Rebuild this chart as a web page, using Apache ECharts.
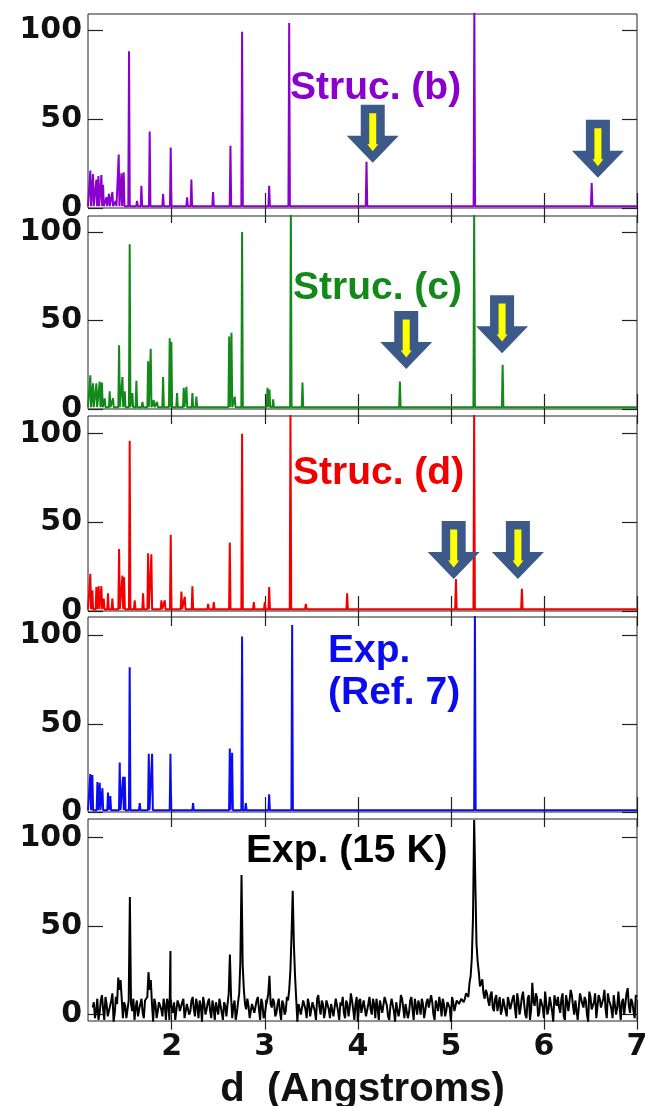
<!DOCTYPE html>
<html>
<head>
<meta charset="utf-8">
<script src="https://cdn.jsdelivr.net/npm/echarts@6/dist/echarts.min.js"></script>
<style>
  html, body { margin: 0; background: #fff; }
  #chart { width: 646px; height: 1106px; }
</style>
</head>
<body>
<div id="chart"></div>
<script>
// tick labels
var dTicks = [2, 3, 4, 5, 6, 7];
var yTicks = [0, 50, 100];
var titles = ["Struc. (b)", "Struc. (c)", "Struc. (d)", "Exp.\n(Ref. 7)", "Exp. (15 K)"];
var colors = ["#8a00cc", "#13891a", "#f20000", "#0b0bf0", "#000000"];

// Struc. (b) peaks: d (Angstroms), intensity
var strucB_d = [1.125, 1.154, 1.190, 1.212, 1.244, 1.262, 1.298, 1.326, 1.362, 1.398, 1.430, 1.459, 1.484, 1.541, 1.627, 1.674, 1.763, 1.907, 1.989, 2.165, 2.211, 2.444, 2.631, 2.756, 3.047, 3.262, 4.093, 5.252, 6.513];
var strucB_I = [21, 19, 16, 18, 18.5, 13, 6, 8, 9, 4, 30, 19.5, 20, 88, 4, 12.5, 43, 8, 34, 6, 16, 9, 35, 99, 12.5, 104, 26, 112, 14];

// Struc. (c)
var strucC_d = [1.125, 1.154, 1.190, 1.226, 1.250, 1.280, 1.333, 1.369, 1.434, 1.470, 1.495, 1.548, 1.577, 1.620, 1.685, 1.746, 1.774, 1.806, 1.842, 1.907, 1.978, 1.996, 2.057, 2.129, 2.158, 2.222, 2.265, 2.617, 2.642, 2.677, 2.756, 3.029, 3.050, 3.090, 3.280, 3.405, 4.452, 5.250, 5.556];
var strucC_I = [19, 14.5, 14.5, 15.5, 15, 6, 10, 6, 36, 18, 10, 93, 9, 16, 4, 27, 34, 5, 4, 18, 40, 38, 9, 12, 12.5, 9, 7, 41, 43, 7, 100, 12, 11, 5.5, 112, 15, 15.5, 112, 25];

// Struc. (d)
var strucD_d = [1.125, 1.147, 1.190, 1.215, 1.244, 1.269, 1.315, 1.362, 1.434, 1.470, 1.488, 1.548, 1.602, 1.692, 1.746, 1.781, 1.889, 1.925, 1.989, 2.104, 2.140, 2.222, 2.391, 2.452, 2.624, 2.756, 2.882, 3.000, 3.047, 3.276, 3.441, 3.885, 5.054, 5.250, 5.763];
var strucD_I = [21, 11.7, 13.5, 14, 14, 7, 10, 7, 35, 20, 19, 96, 6, 10, 32.5, 32, 6, 6, 43, 11, 8, 14, 4, 5, 38.7, 100, 5, 5, 13.5, 112, 4, 10, 18, 112, 12.6];

// Exp. (Ref. 7)
var expRef_d = [1.125, 1.147, 1.201, 1.226, 1.255, 1.315, 1.340, 1.387, 1.441, 1.477, 1.495, 1.548, 1.656, 1.703, 1.753, 1.789, 1.907, 1.986, 2.229, 2.624, 2.649, 2.756, 2.796, 3.047, 3.294, 5.258];
var expRef_I = [21.5, 21, 17, 16.5, 13.5, 11, 9, 2, 28, 20, 20, 82, 5, 2, 33, 33, 2, 33, 5, 36, 33.5, 99.5, 5, 10, 106, 112];

// Exp. (15 K): intensity every 0.025 A from 1.15 A ...
var exp15_start = 1.15;
var exp15_step = 0.025;
var exp15_I = [
  4, -2, 9, 1, 11, -3, 6, 0, 8, -4, 10, 21, 19.5, -2, 5, 3, 66.5, 2, -3, 8,
  3, 9, -2, 7, 24, 19.5, -4, 6, 2, 8, -1, 5, 9, -3, 4, 7, -2, 6, 1, 9,
  -3, 7, 2, 10, -1, 5, 8, -4, 6, 3, 9, -2, 4, 7, 0, 8, -3, 5, 6, 34,
  -2, 8, 1, 12, 79, 14, 3, 5, -1, 7, 2, 10, -3, 6, 0, 8, 22, 4, 7, 1,
  9, -3, 6, 2, 8, 25, 70, 22, -4, 7, 1, 9, -2, 6, 3, 8, -3, 11, 0, 6,
  2, 9, -2, 7, 4, 10, -3, 5, 1, 8, -1, 12, 3, 6, -4, 9, 2, 7, -2, 10,
  0, 6, 9, -3, 7, 2, 11, -1, 5, 8, -4, 6, 3, 9, -2, 7, 1, 10, -3, 5,
  8, 0, 6, -2, 9, 3, 7, -3, 5, 10, -1, 6, 2, 8, -4, 7, 3, 9, 5, 10,
  9, 13, 18, 32, 110, 40, 24, 17, 12, 14, 8, 11, 4, 9, 2, 10, 3, 8, -1, 7,
  2, 11, -2, 8, 4, 13, 0, 9, -3, 18, 5, 10, 1, 8, -2, 12, 3, 9, -4, 7,
  10, 1, 12, -3, 7, 3, 11, 0, 9, -2, 13, 4, 8, -4, 10, 2, 12, -1, 9, 5,
  14, -2, 8, 3, 11, 0, 13, -3, 9, 6, 15, 1, 7, -2, 10
];
// ... and the samples half way between them (from 1.1625 A)
var exp15_mid = [
  7, 2, -3, 8, 3, 10, -1, 5, 12, 1, 6, 14, 9, 7, -2, 8, 6, 9, 4, -1,
  6, 1, 8, 10, 14, 6, 9, -2, 7, 3, 9, -3, 6, 8, 1, -3, 8, 2, 7, -2,
  6, 0, 8, 3, 9, -2, 5, 10, 0, 7, 2, 8, -3, 6, 9, 1, 7, -1, 12, 10,
  5, -3, 7, 30, 28, 6, 9, -2, 6, 1, 8, 3, 9, -2, 5, 12, 6, 9, -1, 6,
  2, 8, 0, 10, 14, 45, 40, 9, 6, 0, 8, 3, 9, -1, 7, 2, 9, 4, 8, -2,
  8, 3, 6, -1, 9, 2, 7, 10, -2, 6, 4, 8, -3, 10, 5, 1, 8, -1, 6, 3,
  9, -2, 4, 8, 1, 10, 5, -3, 9, 2, 7, -1, 11, 4, 6, -2, 8, 3, 9, 0,
  5, 9, -2, 7, 4, 11, 0, 8, 2, 6, 9, -1, 7, 4, 10, 2, 8, 6, 9, 7,
  12, 10, 22, 55, 75, 30, 16, 20, 9, 12, 5, 13, 2, 11, 6, 0, 9, 2, 10, 3,
  9, 4, 12, 0, 10, 6, -2, 11, 3, 7, 12, -1, 9, 4, 13, 0, 10, 2, 11, 5,
  4, 9, -1, 11, 2, 14, 5, 8, -3, 12, 6, 10, 0, 13, 3, 7, -2, 11, 4, 9,
  3, 12, 6, -2, 10, 4, 14, 7, 0, 12, 5, 9, 2, 11
];
var exp15Extra_d = [1.986];
var exp15Extra_I = [36];

// arrow tips [d, intensity]
var arrowsB = [[4.16, 25.4], [6.58, 17]];
var arrowsC = [[4.52, 22.6], [5.55, 31.5]];
var arrowsD = [[5.03, 18], [5.72, 18]];

var baseLevel = 1;

function sticks(ds, is) {
  var pts = [[1.1, baseLevel]];
  for (var i = 0; i < ds.length; i++) {
    pts.push([ds[i] - 0.008, baseLevel], [ds[i], is[i]], [ds[i] + 0.008, baseLevel]);
  }
  pts.push([7, baseLevel]);
  return pts;
}

function expLine() {
  var pts = [];
  exp15_I.forEach(function (v, i) {
    pts.push([+(exp15_start + i * exp15_step).toFixed(4), v]);
  });
  exp15_mid.forEach(function (v, i) {
    pts.push([+(exp15_start + (i + 0.5) * exp15_step).toFixed(4), v]);
  });
  for (var i = 0; i < exp15Extra_d.length; i++) pts.push([exp15Extra_d[i], exp15Extra_I[i]]);
  pts.sort(function (a, b) { return a[0] - b[0]; });
  return pts;
}

var ARROW = "path://M14,0 L38,0 L38,31 L52,31 L26,58 L0,31 L14,31 Z";
var ARROW_IN = "path://M2,0 L9,0 L9,31 L11,31 L5.5,38 L0,31 L2,31 Z";

function arrowMarks(list) {
  var data = [];
  list.forEach(function (c) {
    data.push({ coord: c, symbol: ARROW, symbolSize: [52, 58], symbolOffset: [0, -29], itemStyle: { color: "#3b5a89" } });
    data.push({ coord: c, symbol: ARROW_IN, symbolSize: [11, 38], symbolOffset: [0, -30.6], itemStyle: { color: "#ffff00" } });
  });
  return { silent: true, label: { show: false }, data: data };
}

var panels = [
  { top: 14, height: 194, min: 0, max: 109 },
  { top: 216, height: 193, min: 0, max: 109 },
  { top: 416, height: 195, min: 0, max: 110 },
  { top: 617, height: 195, min: 0, max: 110.5 },
  { top: 819, height: 202, min: -3.6, max: 110.6 }
];
var lines = [sticks(strucB_d, strucB_I), sticks(strucC_d, strucC_I), sticks(strucD_d, strucD_I), sticks(expRef_d, expRef_I), expLine()];
var arrows = [arrowsB, arrowsC, arrowsD, null, null];

var tickStyle = { color: "#222", width: 1.2 };
var labelFont = { fontFamily: "DejaVu Sans", fontWeight: "bold", fontSize: 30, color: "#111" };

var grid = [], xAxis = [], yAxis = [], series = [], title = [];
panels.forEach(function (p, i) {
  grid.push({
    left: 88, right: 9, top: p.top, height: p.height,
    outerBoundsMode: "none", containLabel: false,
    show: true, borderColor: "#222", borderWidth: 1
  });
  ["bottom", "top"].forEach(function (pos) {
    var last = i === 4 && pos === "bottom";
    xAxis.push({
      type: "value", gridIndex: i, position: pos, min: 1.1, max: 7,
      axisLine: { show: false }, splitLine: { show: false },
      axisTick: { inside: true, length: 15, customValues: dTicks, lineStyle: tickStyle },
      axisLabel: Object.assign({ show: last, customValues: dTicks, margin: 11 }, labelFont),
      name: last ? "d  (Angstroms)" : "",
      nameLocation: "middle", nameGap: 49,
      nameTextStyle: { fontFamily: "Liberation Sans", fontWeight: "bold", fontSize: 40, color: "#111" }
    });
  });
  ["left", "right"].forEach(function (pos) {
    yAxis.push({
      type: "value", gridIndex: i, position: pos, min: p.min, max: p.max,
      axisLine: { show: false }, splitLine: { show: false },
      axisTick: { inside: true, length: 15, customValues: yTicks, lineStyle: tickStyle },
      axisLabel: Object.assign({ show: pos === "left", customValues: yTicks, margin: 6 }, labelFont)
    });
  });
  var s = {
    type: "line", xAxisIndex: 2 * i, yAxisIndex: 2 * i, data: lines[i],
    symbol: "none", clip: i < 4,
    lineStyle: { width: 2, color: colors[i] }
  };
  if (arrows[i]) s.markPoint = arrowMarks(arrows[i]);
  series.push(s);
});

title = [
  { text: titles[0], left: 290, top: 67 },
  { text: titles[1], left: 293, top: 267 },
  { text: titles[2], left: 293, top: 452 },
  { text: titles[3], left: 328, top: 630 },
  { text: titles[4], left: 246, top: 830 }
].map(function (t, i) {
  t.padding = 0;
  t.textStyle = { color: colors[i], fontFamily: "Liberation Sans", fontWeight: "bold", fontSize: 39, lineHeight: 42 };
  return t;
});

var chart = echarts.init(document.getElementById("chart"));
chart.setOption({
  animation: false,
  backgroundColor: "#fff",
  title: title,
  grid: grid,
  xAxis: xAxis,
  yAxis: yAxis,
  series: series
});
</script>
</body>
</html>
